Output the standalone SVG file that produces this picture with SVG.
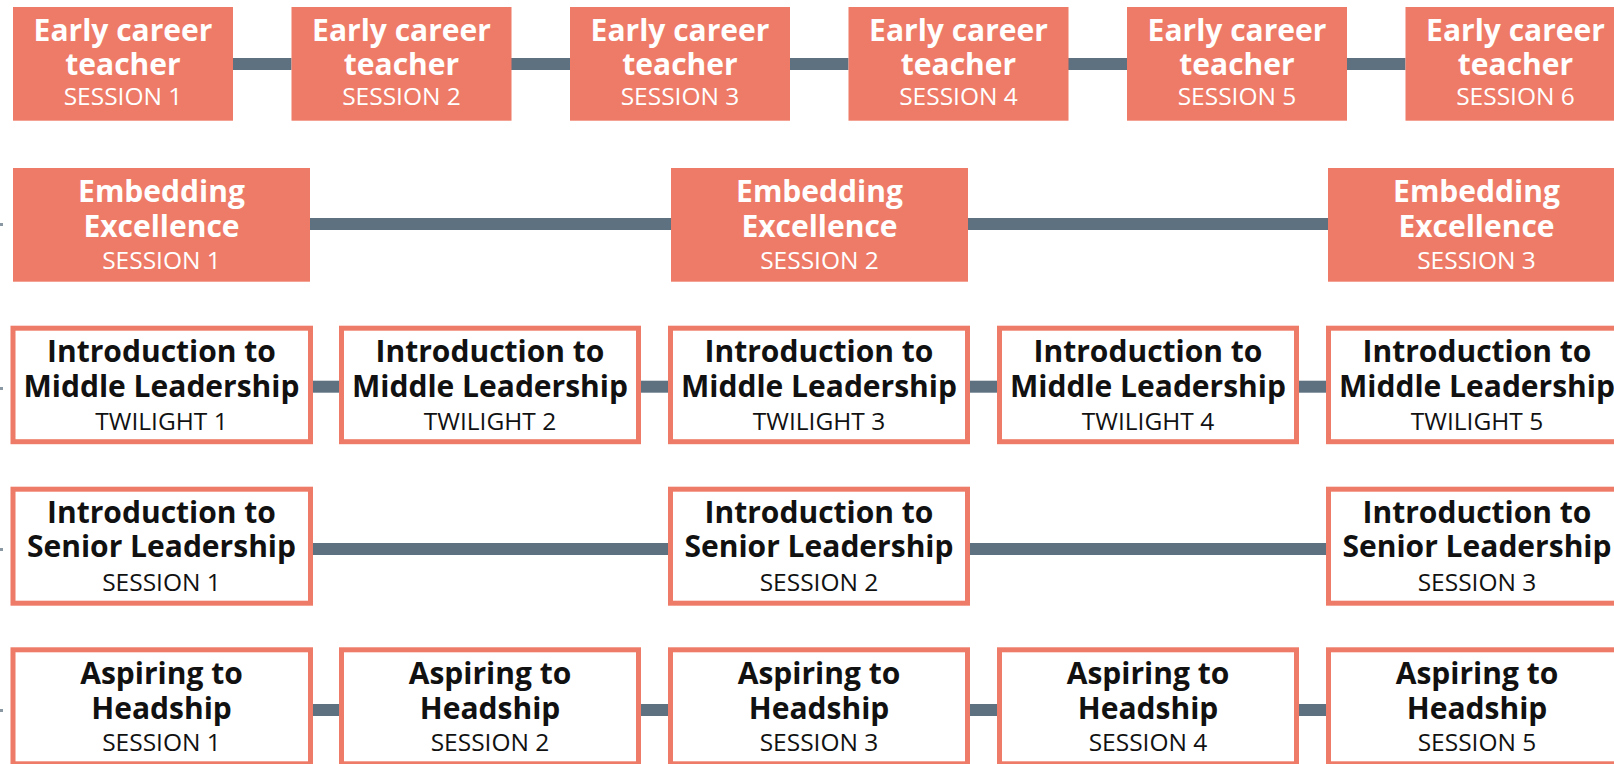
<svg xmlns="http://www.w3.org/2000/svg" width="1614" height="764" viewBox="0 0 1614 764">
<style>
.fill{fill:#EE7B67}
.out{fill:#fff;stroke:#EE7B67;stroke-width:5}
.con{stroke:#5E7181;stroke-width:12;fill:none}
text{font-family:"Open Sans","Noto Sans","Liberation Sans",sans-serif;text-anchor:middle}
.tw{fill:#fff;font-weight:700;font-size:30px}
.sw{fill:#fff;font-size:24.5px}
.tb{fill:#111;font-weight:700;font-size:30px}
.sb{fill:#111;font-size:24.5px}
</style>
<rect width="1614" height="764" fill="#fff"/>
<g id="connectors">
<line class="con" x1="233" y1="64" x2="291.5" y2="64"/>
<line class="con" x1="511" y1="64" x2="570" y2="64"/>
<line class="con" x1="790" y1="64" x2="848.5" y2="64"/>
<line class="con" x1="1068" y1="64" x2="1127" y2="64"/>
<line class="con" x1="1347" y1="64" x2="1405.5" y2="64"/>
<line class="con" x1="310" y1="224" x2="671" y2="224"/>
<line class="con" x1="968" y1="224" x2="1328" y2="224"/>
<line class="con" x1="312" y1="386.7" x2="339" y2="386.7"/>
<line class="con" x1="641" y1="386.7" x2="668" y2="386.7"/>
<line class="con" x1="970" y1="386.7" x2="997" y2="386.7"/>
<line class="con" x1="1299" y1="386.7" x2="1326" y2="386.7"/>
<line class="con" x1="312" y1="549" x2="668" y2="549"/>
<line class="con" x1="970" y1="549" x2="1326" y2="549"/>
<line class="con" x1="312" y1="710" x2="339" y2="710"/>
<line class="con" x1="641" y1="710" x2="668" y2="710"/>
<line class="con" x1="970" y1="710" x2="997" y2="710"/>
<line class="con" x1="1299" y1="710" x2="1326" y2="710"/>
<g fill="#8a98a4">
<rect x="0" y="223" width="3" height="3"/>
<rect x="0" y="387" width="3" height="3"/>
<rect x="0" y="548" width="3" height="3"/>
<rect x="0" y="709" width="3" height="3"/>
</g>
</g>
<g id="ect1"><rect class="fill" x="13" y="7" width="220" height="113.7"/><text class="tw" x="123" y="40.7">Early career</text><text class="tw" x="123" y="75.3">teacher</text><text class="sw" x="123" y="104.7">SESSION 1</text></g>
<g id="ect2"><rect class="fill" x="291.5" y="7" width="220" height="113.7"/><text class="tw" x="401.5" y="40.7">Early career</text><text class="tw" x="401.5" y="75.3">teacher</text><text class="sw" x="401.5" y="104.7">SESSION 2</text></g>
<g id="ect3"><rect class="fill" x="570" y="7" width="220" height="113.7"/><text class="tw" x="680" y="40.7">Early career</text><text class="tw" x="680" y="75.3">teacher</text><text class="sw" x="680" y="104.7">SESSION 3</text></g>
<g id="ect4"><rect class="fill" x="848.5" y="7" width="220" height="113.7"/><text class="tw" x="958.5" y="40.7">Early career</text><text class="tw" x="958.5" y="75.3">teacher</text><text class="sw" x="958.5" y="104.7">SESSION 4</text></g>
<g id="ect5"><rect class="fill" x="1127" y="7" width="220" height="113.7"/><text class="tw" x="1237" y="40.7">Early career</text><text class="tw" x="1237" y="75.3">teacher</text><text class="sw" x="1237" y="104.7">SESSION 5</text></g>
<g id="ect6"><rect class="fill" x="1405.5" y="7" width="220" height="113.7"/><text class="tw" x="1515.5" y="40.7">Early career</text><text class="tw" x="1515.5" y="75.3">teacher</text><text class="sw" x="1515.5" y="104.7">SESSION 6</text></g>
<g id="ee1"><rect class="fill" x="13" y="168" width="297" height="113.7"/><text class="tw" x="161.5" y="201.7">Embedding</text><text class="tw" x="161.5" y="236.7">Excellence</text><text class="sw" x="161.5" y="269.3">SESSION 1</text></g>
<g id="ee2"><rect class="fill" x="671" y="168" width="297" height="113.7"/><text class="tw" x="819.5" y="201.7">Embedding</text><text class="tw" x="819.5" y="236.7">Excellence</text><text class="sw" x="819.5" y="269.3">SESSION 2</text></g>
<g id="ee3"><rect class="fill" x="1328" y="168" width="297" height="113.7"/><text class="tw" x="1476.5" y="201.7">Embedding</text><text class="tw" x="1476.5" y="236.7">Excellence</text><text class="sw" x="1476.5" y="269.3">SESSION 3</text></g>
<g id="iml1"><rect class="out" x="13" y="328.2" width="297.5" height="113.5"/><text class="tb" x="161.5" y="362.3">Introduction to</text><text class="tb" x="161.5" y="397">Middle Leadership</text><text class="sb" x="161.5" y="430">TWILIGHT 1</text></g>
<g id="iml2"><rect class="out" x="341.5" y="328.2" width="297" height="113.5"/><text class="tb" x="490" y="362.3">Introduction to</text><text class="tb" x="490" y="397">Middle Leadership</text><text class="sb" x="490" y="430">TWILIGHT 2</text></g>
<g id="iml3"><rect class="out" x="670.5" y="328.2" width="297" height="113.5"/><text class="tb" x="819" y="362.3">Introduction to</text><text class="tb" x="819" y="397">Middle Leadership</text><text class="sb" x="819" y="430">TWILIGHT 3</text></g>
<g id="iml4"><rect class="out" x="999.5" y="328.2" width="297" height="113.5"/><text class="tb" x="1148" y="362.3">Introduction to</text><text class="tb" x="1148" y="397">Middle Leadership</text><text class="sb" x="1148" y="430">TWILIGHT 4</text></g>
<g id="iml5"><rect class="out" x="1328.5" y="328.2" width="297" height="113.5"/><text class="tb" x="1477" y="362.3">Introduction to</text><text class="tb" x="1477" y="397">Middle Leadership</text><text class="sb" x="1477" y="430">TWILIGHT 5</text></g>
<g id="isl1"><rect class="out" x="13" y="489.2" width="297.5" height="114"/><text class="tb" x="161.5" y="523">Introduction to</text><text class="tb" x="161.5" y="557">Senior Leadership</text><text class="sb" x="161.5" y="590.7">SESSION 1</text></g>
<g id="isl2"><rect class="out" x="670.5" y="489.2" width="297" height="114"/><text class="tb" x="819" y="523">Introduction to</text><text class="tb" x="819" y="557">Senior Leadership</text><text class="sb" x="819" y="590.7">SESSION 2</text></g>
<g id="isl3"><rect class="out" x="1328.5" y="489.2" width="297" height="114"/><text class="tb" x="1477" y="523">Introduction to</text><text class="tb" x="1477" y="557">Senior Leadership</text><text class="sb" x="1477" y="590.7">SESSION 3</text></g>
<g id="ath1"><rect class="out" x="13" y="649.8" width="297.5" height="114"/><text class="tb" x="161.5" y="684">Aspiring to</text><text class="tb" x="161.5" y="719">Headship</text><text class="sb" x="161.5" y="751.3">SESSION 1</text></g>
<g id="ath2"><rect class="out" x="341.5" y="649.8" width="297" height="114"/><text class="tb" x="490" y="684">Aspiring to</text><text class="tb" x="490" y="719">Headship</text><text class="sb" x="490" y="751.3">SESSION 2</text></g>
<g id="ath3"><rect class="out" x="670.5" y="649.8" width="297" height="114"/><text class="tb" x="819" y="684">Aspiring to</text><text class="tb" x="819" y="719">Headship</text><text class="sb" x="819" y="751.3">SESSION 3</text></g>
<g id="ath4"><rect class="out" x="999.5" y="649.8" width="297" height="114"/><text class="tb" x="1148" y="684">Aspiring to</text><text class="tb" x="1148" y="719">Headship</text><text class="sb" x="1148" y="751.3">SESSION 4</text></g>
<g id="ath5"><rect class="out" x="1328.5" y="649.8" width="297" height="114"/><text class="tb" x="1477" y="684">Aspiring to</text><text class="tb" x="1477" y="719">Headship</text><text class="sb" x="1477" y="751.3">SESSION 5</text></g>
</svg>
